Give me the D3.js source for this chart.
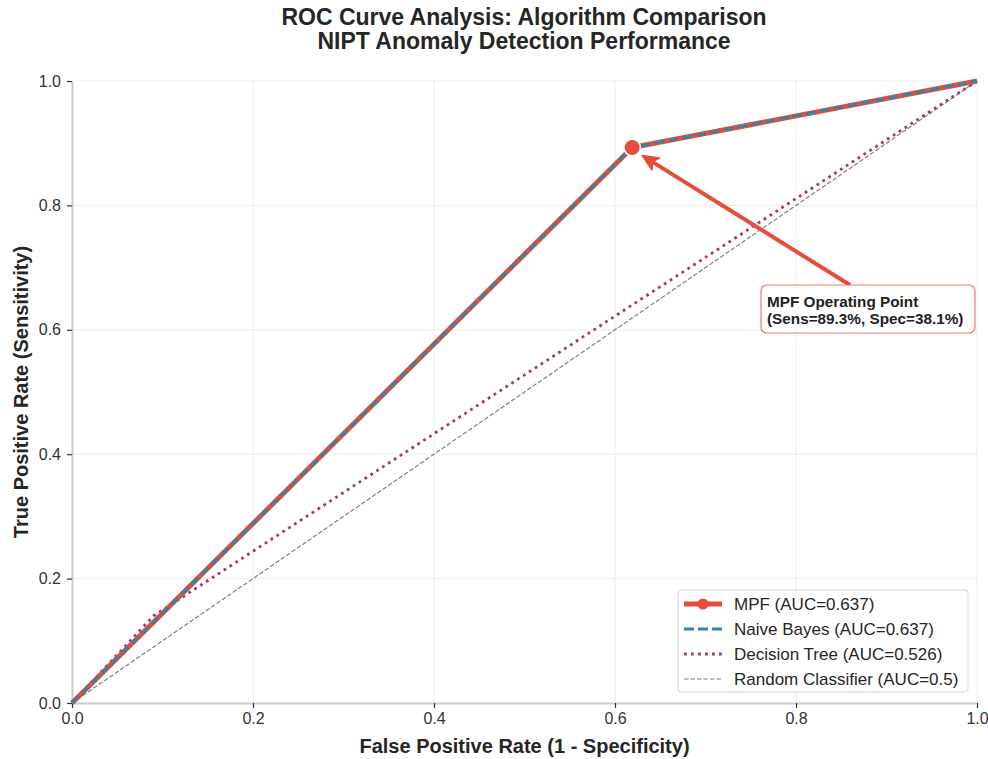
<!DOCTYPE html>
<html>
<head>
<meta charset="utf-8">
<script src="https://cdn.jsdelivr.net/npm/d3@7"></script>
<style>
  body { margin: 0; background: #fff; }
  svg { display: block; font-family: "Liberation Sans", Arial, Helvetica, sans-serif; }
</style>
</head>
<body>
<svg id="chart" width="988" height="759"></svg>
<script>
// ---- Data ----
const titleLines = ["ROC Curve Analysis: Algorithm Comparison", "NIPT Anomaly Detection Performance"];
const xLabel = "False Positive Rate (1 - Specificity)";
const yLabel = "True Positive Rate (Sensitivity)";
const tickValues = [0, 0.2, 0.4, 0.6, 0.8, 1.0];

const mpfFPR = [0, 0.619, 1];
const mpfTPR = [0, 0.893, 1];
const nbFPR = [0, 0.619, 1];
const nbTPR = [0, 0.893, 1];
const dtFPR = [0, 0.09, 1];
const dtTPR = [0, 0.14, 1];
const randFPR = [0, 1];
const randTPR = [0, 1];

const seriesNames = ["MPF (AUC=0.637)", "Naive Bayes (AUC=0.637)", "Decision Tree (AUC=0.526)", "Random Classifier (AUC=0.5)"];
const opPoint = [0.619, 0.893];
const opLabel = ["MPF Operating Point", "(Sens=89.3%, Spec=38.1%)"];

(function () {
// ---- Layout ----
const svg = d3.select("#chart");
const pL = 72, pR = 977, pT = 81, pB = 703;
const x = d3.scaleLinear().domain([0, 1]).range([pL, pR]);
const y = d3.scaleLinear().domain([0, 1]).range([pB, pT]);

// grid
const grid = svg.append("g");
tickValues.forEach(t => {
  grid.append("line").attr("x1", x(t)).attr("x2", x(t)).attr("y1", pT).attr("y2", pB)
    .attr("stroke", "#ececec").attr("stroke-width", 1);
  grid.append("line").attr("x1", pL).attr("x2", pR).attr("y1", y(t)).attr("y2", y(t))
    .attr("stroke", "#ececec").attr("stroke-width", 1);
});

// axes
const fmt = d3.format(".1f");
const xAxis = svg.append("g").attr("transform", `translate(0,${pB})`)
  .call(d3.axisBottom(x).tickValues(tickValues).tickFormat(fmt).tickSize(5).tickPadding(5).tickSizeOuter(0));
const yAxis = svg.append("g").attr("transform", `translate(${pL},0)`)
  .call(d3.axisLeft(y).tickValues(tickValues).tickFormat(fmt).tickSize(5).tickPadding(6).tickSizeOuter(0));
[xAxis, yAxis].forEach(a => {
  a.attr("font-family", null).attr("font-size", null);
  a.select(".domain").attr("stroke", "#cccccc").attr("stroke-width", 2);
  a.selectAll(".tick line").attr("stroke", "#333").attr("stroke-width", 1.2);
  a.selectAll(".tick text").attr("fill", "#333").style("font-size", "16px");
});

const line = d3.line().x(d => x(d[0])).y(d => y(d[1]));
const zip = (a, b) => a.map((v, i) => [v, b[i]]);

// random
svg.append("path").datum(zip(randFPR, randTPR)).attr("d", line)
  .attr("fill", "none").attr("stroke", "#808080").attr("stroke-width", 1.2).attr("stroke-dasharray", "4.5,2");
// decision tree
svg.append("path").datum(zip(dtFPR, dtTPR)).attr("d", line)
  .attr("fill", "none").attr("stroke", "#a23b72").attr("stroke-width", 2.8).attr("stroke-dasharray", "2.8,4.2");
// MPF
svg.append("path").datum(zip(mpfFPR, mpfTPR)).attr("d", line)
  .attr("fill", "none").attr("stroke", "#e74c3c").attr("stroke-width", 5).attr("stroke-linejoin", "round");
// Naive Bayes
svg.append("path").datum(zip(nbFPR, nbTPR)).attr("d", line)
  .attr("fill", "none").attr("stroke", "#2e86ab").attr("stroke-width", 2.8).attr("stroke-dasharray", "10,4");
// MPF op point marker
svg.append("circle").attr("cx", x(opPoint[0])).attr("cy", y(opPoint[1])).attr("r", 9)
  .attr("fill", "#fff");
svg.append("circle").attr("cx", x(opPoint[0])).attr("cy", y(opPoint[1])).attr("r", 7.5)
  .attr("fill", "#e74c3c");

// annotation arrow
const ax1 = 850, ay1 = 285;
const ax2 = x(opPoint[0]) + 10, ay2 = y(opPoint[1]) + 8;
const ang = Math.atan2(ay2 - ay1, ax2 - ax1);
const hl = 16, hw = 7;
const bx = ax2 - hl * Math.cos(ang), by = ay2 - hl * Math.sin(ang);
svg.append("line").attr("x1", ax1).attr("y1", ay1).attr("x2", bx + 4 * Math.cos(ang)).attr("y2", by + 4 * Math.sin(ang))
  .attr("stroke", "#e74c3c").attr("stroke-width", 4);
svg.append("path")
  .attr("d", `M${ax2},${ay2} L${bx - hw * Math.sin(ang)},${by + hw * Math.cos(ang)} L${bx + 4*Math.cos(ang)},${by + 4*Math.sin(ang)} L${bx + hw * Math.sin(ang)},${by - hw * Math.cos(ang)} Z`)
  .attr("fill", "#e74c3c").attr("stroke", "#e74c3c").attr("stroke-width", 1.5).attr("stroke-linejoin", "round");

// annotation box
svg.append("rect").attr("x", 761).attr("y", 285).attr("width", 214).attr("height", 48).attr("rx", 6)
  .attr("fill", "#fff").attr("stroke", "#e74c3c").attr("stroke-opacity", 0.75).attr("stroke-width", 1.2);
opLabel.forEach((t, i) => {
  svg.append("text").attr("x", 767).attr("y", 307 + i * 17).text(t)
    .style("font-size", "15.3px").style("font-weight", "bold").attr("fill", "#222");
});

// titles
titleLines.forEach((t, i) => {
  svg.append("text").attr("x", 524).attr("y", 25 + i * 24).attr("text-anchor", "middle").text(t)
    .style("font-size", "23px").style("font-weight", "bold").attr("fill", "#262626");
});
svg.append("text").attr("x", (pL + pR) / 2).attr("y", 753).attr("text-anchor", "middle").text(xLabel)
  .style("font-size", "20px").style("font-weight", "bold").attr("fill", "#262626");
svg.append("text").attr("transform", `translate(28,${(pT + pB) / 2}) rotate(-90)`).attr("text-anchor", "middle").text(yLabel)
  .style("font-size", "20px").style("font-weight", "bold").attr("fill", "#262626");

// legend
const lg = svg.append("g");
lg.append("rect").attr("x", 678).attr("y", 590).attr("width", 290).attr("height", 102).attr("rx", 3)
  .attr("fill", "#fff").attr("fill-opacity", 0.9).attr("stroke", "#d6d6d6").attr("stroke-width", 1);
const legStyles = [
  {c: "#e74c3c", w: 5, d: null, marker: true},
  {c: "#2e86ab", w: 2.8, d: "10,4"},
  {c: "#a23b72", w: 2.8, d: "2.8,4.2"},
  {c: "#808080", w: 1.2, d: "4.5,2"}
];
seriesNames.forEach((n, i) => {
  const yy = 604 + i * 25;
  const s = legStyles[i];
  const l = lg.append("line").attr("x1", 684).attr("x2", 722).attr("y1", yy).attr("y2", yy)
    .attr("stroke", s.c).attr("stroke-width", s.w);
  if (s.d) l.attr("stroke-dasharray", s.d);
  if (s.marker) lg.append("circle").attr("cx", 703).attr("cy", yy).attr("r", 5.5).attr("fill", s.c);
  lg.append("text").attr("x", 734).attr("y", yy + 6).text(n).style("font-size", "17px").attr("fill", "#262626");
});
})();
</script>
</body>
</html>
